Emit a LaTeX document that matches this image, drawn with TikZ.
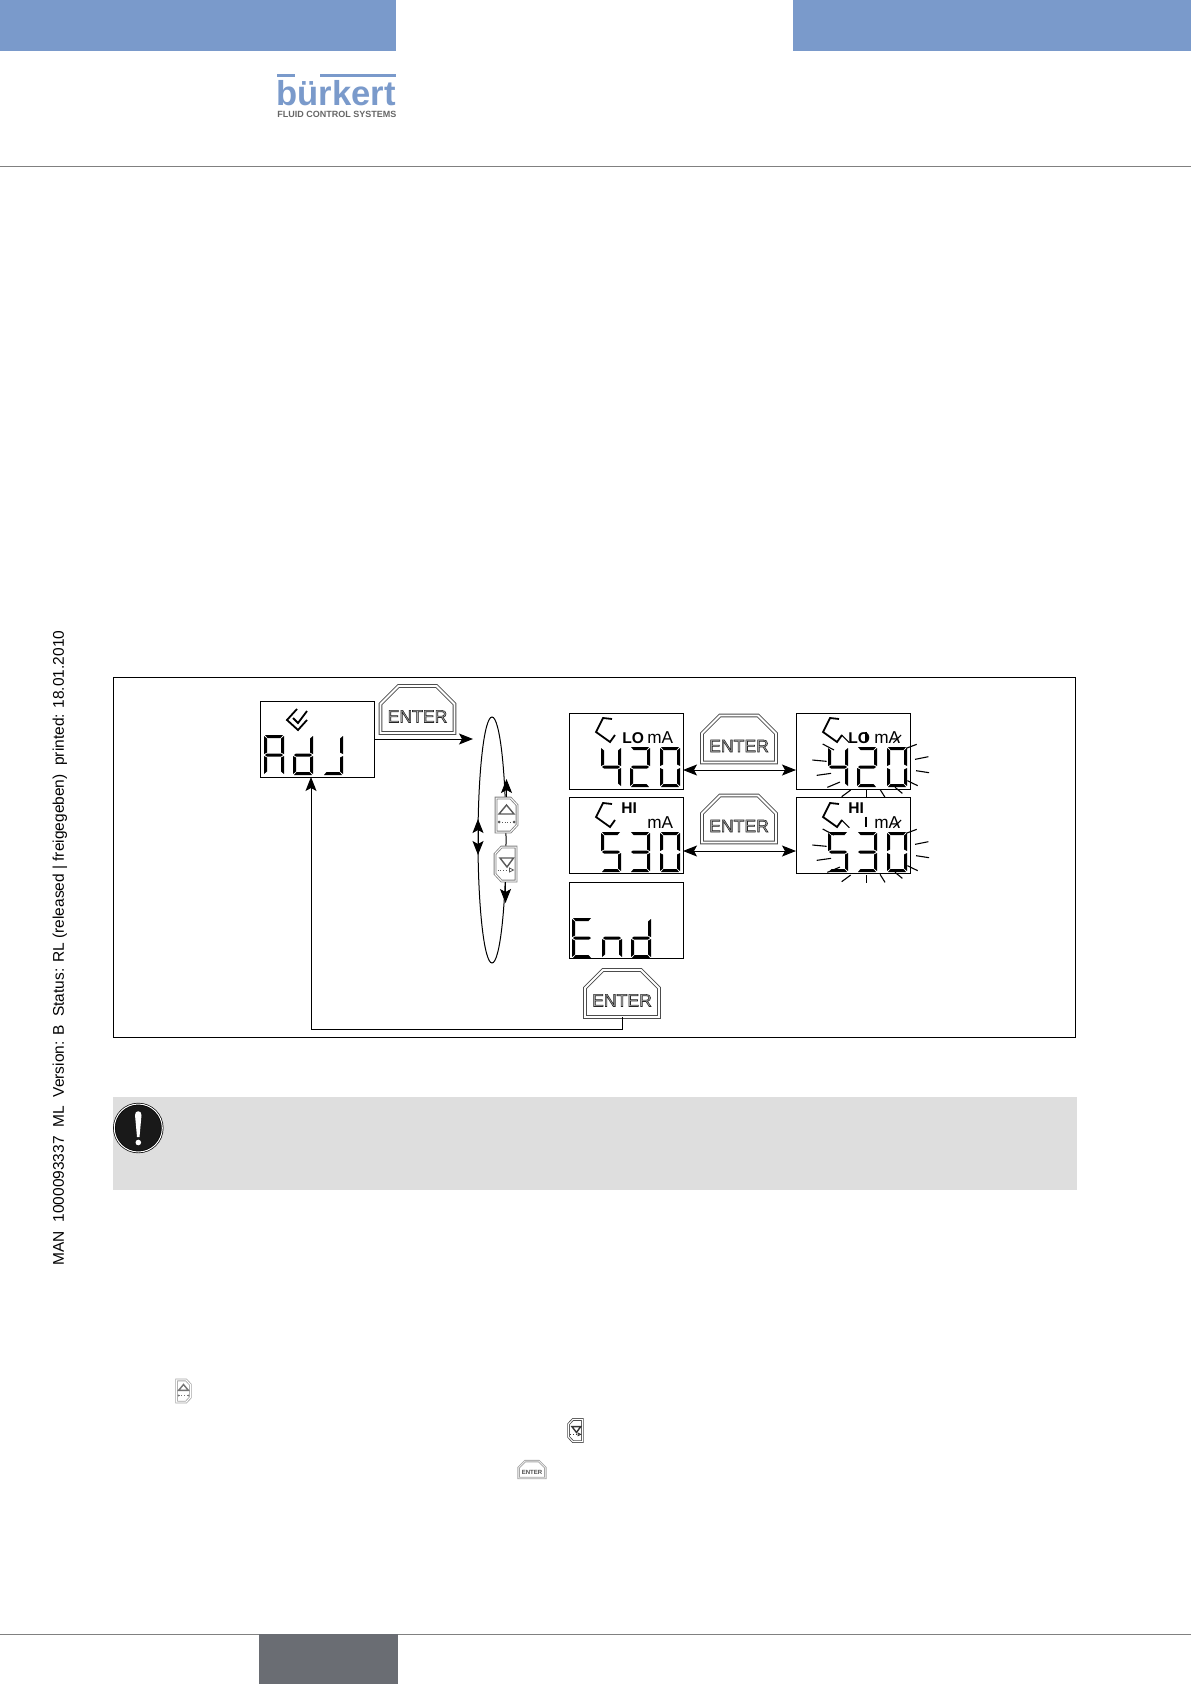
\documentclass[tikz,border=0pt]{standalone}
\usepackage{fontspec}
\setmainfont{Liberation Sans}
\setsansfont{Liberation Sans}
\usepackage{xcolor}
\usetikzlibrary{positioning, arrows.meta, shapes.geometric, shapes.misc}

\definecolor{burkblue}{HTML}{7A9ACB}
\definecolor{footgray}{HTML}{6A6D73}
\definecolor{notegray}{HTML}{DEDEDE}
\definecolor{keygray}{HTML}{808080}
\definecolor{smallgray}{HTML}{A6A6A6}
\definecolor{smalldark}{HTML}{4D4D4D}

% one lcd segment each
\newcommand{\sega}{\fill (1,0) -- (19,0) -- (16.5,3) -- (3.5,3) -- cycle;}
\newcommand{\segb}{\fill (20,1) -- (20,19) -- (17,17.5) -- (17,3.5) -- cycle;}
\newcommand{\segc}{\fill (20,21) -- (20,39) -- (17,36.5) -- (17,22.5) -- cycle;}
\newcommand{\segd}{\fill (1,40) -- (19,40) -- (16.5,37) -- (3.5,37) -- cycle;}
\newcommand{\sege}{\fill (0,21) -- (0,39) -- (3,36.5) -- (3,22.5) -- cycle;}
\newcommand{\segf}{\fill (0,1) -- (0,19) -- (3,17.5) -- (3,3.5) -- cycle;}
\newcommand{\segg}{\fill (1,20) -- (3,18.5) -- (17,18.5) -- (19,20) -- (17,21.5) -- (3,21.5) -- cycle;}
\newcommand{\lcd}[3]{\begin{scope}[shift={(#1,#2)}]
    \foreach \s in {#3} {\csname seg\s\endcsname}
\end{scope}}

% outlined letters on the keys
\newcommand{\outlined}[1]{\raisebox{-6.5pt}[0pt][0pt]{\special{pdf: code q 2 Tr 0.3 w 0.15 G 0.7 g}#1\special{pdf: code Q}}}

% bracket above the digits
\newcommand{\bracketmark}[2]{\draw[mark line] (#1,#2) -- ++(-9,-1) -- ++(-7,14) -- ++(14,10) -- ++(5,-7);}

% blinking rays round a display
\newcommand{\rays}[2]{\begin{scope}[shift={(#1,#2)},x=0.1667pt,y=-0.1667pt]
    \foreach \xa/\ya/\xb/\yb in {218/132/252/150, 187/180/230/184, 200/226/243/220, 232/262/270/246,
        275/290/302/270, 350/270/350/295, 390/268/405/292, 435/262/457/280, 472/242/503/257,
        498/212/537/218, 495/178/535/170, 468/145/500/133, 275/105/298/128, 348/95/348/125, 430/128/453/105}
        {\draw[ray] (\xa,\ya) -- (\xb,\yb);}
\end{scope}}

% arrow keys
\newcommand{\keyup}[5]{\begin{scope}[shift={(#2,#3)},scale=#4,transform shape]
    \node[keybtn] (#1) at (0,0) {};
    \draw[keyline, draw=#5] (-10.5,-17) -- (4,-17) -- (10.5,-10) -- (10.5,10) -- (4,17) -- (-10.5,17) -- cycle;
    \draw[draw=#5!70!black, line width=0.7pt] (0,-10) -- (-7.5,-1) -- (7.5,-1) -- cycle;
    \draw[draw=#5!70!black, densely dotted, line width=0.4pt] (-7.5,7) -- (7.5,7);
    \fill[#5!70!black] (-7.5,7) circle (1.5) (7.5,7) circle (1.5);
\end{scope}}
\newcommand{\keydown}[5]{\begin{scope}[shift={(#2,#3)},scale=#4,transform shape]
    \node[keybtn] (#1) at (0,0) {};
    \draw[keyline, draw=#5] (10.5,-17) -- (-4,-17) -- (-10.5,-10) -- (-10.5,10) -- (-4,17) -- (10.5,17) -- cycle;
    \draw[draw=#5!70!black, line width=0.7pt] (1.5,3) -- (-5.5,-6) -- (8,-6) -- cycle;
    \draw[draw=#5!70!black, densely dotted, line width=0.4pt] (-8,6) -- (4,6);
    \draw[draw=#5!70!black, line width=0.4pt] (8,6) -- (4,4) -- (4,8) -- cycle;
\end{scope}}

\begin{document}
\begin{tikzpicture}[
    x=0.5pt, y=-0.5pt,
    every node/.style={font=\sffamily},
    display/.style={rectangle, draw, line width=0.5pt, minimum width=57pt, minimum height=38pt, inner sep=0pt, outer sep=0pt},
    enterbtn/.style={chamfered rectangle, chamfered rectangle corners={north west,north east},
        chamfered rectangle xsep=9pt, chamfered rectangle ysep=9pt,
        draw=black!70, line width=0.45pt, double=white, double distance=0.9pt,
        minimum width=37pt, minimum height=23.5pt, inner sep=0pt, outer sep=0pt, font=\sffamily\fontsize{8.8}{10}\selectfont},
    keybtn/.style={rectangle, minimum width=11.5pt, minimum height=18pt, inner sep=0pt, outer sep=0pt},
    keyline/.style={line width=0.4pt, double=white, double distance=0.5pt, fill=white},
    mark line/.style={line width=0.9pt, line join=miter},
    ray/.style={line width=0.55pt},
    lcdlabel/.style={inner sep=0pt, anchor=base west},
    arr/.style={-{Stealth[length=7pt,width=5.5pt,inset=1.5pt]}, line width=0.5pt},
    dblarr/.style={{Stealth[length=7pt,width=5.5pt,inset=1.5pt]}-{Stealth[length=7pt,width=5.5pt,inset=1.5pt]}, line width=0.5pt},
]
    \useasboundingbox (0,0) rectangle (1191,1684);

    % page head and foot
    \fill[burkblue] (0,0) rectangle (396,51);
    \fill[burkblue] (793,0) rectangle (1191,51);
    \draw[gray, line width=0.5pt] (0,167) -- (1191,167);
    \draw[gray, line width=0.5pt] (0,1634) -- (1191,1634);
    \fill[footgray] (259,1634) rectangle (398,1684);

    % logo
    \fill[burkblue] (277,74) rectangle (295,77.5);
    \fill[burkblue] (320,74) rectangle (396,77.5);
    \node[lcdlabel, text=burkblue, font=\sffamily\bfseries\fontsize{17.3}{20}\selectfont] (logo) at (276,106) {bürkert};
    \node[lcdlabel, text=gray!80!black, font=\sffamily\bfseries\fontsize{4.5}{5}\selectfont] (logotag) at (277,117.5) {FLUID CONTROL SYSTEMS};

    % margin text
    \node[rotate=90, inner sep=0pt, font=\sffamily\fontsize{7.75}{9}\selectfont] (margin) at (60,948)
        {MAN\ \ 1000093337\ \ ML\ \ Version: B\ \ Status: RL (released | freigegeben)\ \ printed: 18.01.2010};

    % frame
    \draw[line width=0.5pt] (113.5,677) rectangle (1075,1037);

    % displays
    \node[display] (dadj) at (317.5,739) {};
    \node[display] (d420) at (626,751) {};
    \node[display, below=4.25pt of d420] (d530) {};
    \node[display, below=4.5pt of d530] (dend) {};
    \node[display, right=56.5pt of d420] (f420) {};
    \node[display, right=56.5pt of d530] (f530) {};

    % Adj
    \lcd{264}{735}{a,b,c,e,f,g}
    \lcd{293}{735}{b,c,d,e,g}
    \lcd{323}{735}{b,c,d}
    \draw[mark line] (297,709) -- (287,720) -- (298,730) -- (307,720);
    \draw[mark line] (293,718) -- (298,723) -- (307,711);

    % left column
    \bracketmark{612}{719}
    \bracketmark{612}{804}
    \node[lcdlabel, font=\sffamily\bfseries\fontsize{7.8}{9}\selectfont] (lolabel) at (622,743) {LO};
    \node[lcdlabel, font=\sffamily\fontsize{8.6}{9}\selectfont] (lounit) at (647,743) {mA};
    \node[lcdlabel, font=\sffamily\bfseries\fontsize{7.8}{9}\selectfont] (hilabel) at (621,813) {HI};
    \node[lcdlabel, font=\sffamily\fontsize{8.6}{9}\selectfont] (hiunit) at (647,828) {mA};
    \lcd{601}{747}{b,c,f,g}
    \lcd{630}{747}{a,b,d,e,g}
    \lcd{660}{747}{a,b,c,d,e,f}
    \lcd{601}{832}{a,c,d,f,g}
    \lcd{630}{832}{a,b,c,d,g}
    \lcd{660}{832}{a,b,c,d,e,f}
    \lcd{572}{918}{a,d,e,f,g}
    \lcd{602}{918}{c,e,g}
    \lcd{631}{918}{b,c,d,e,g}

    % right column
    \bracketmark{839}{719}
    \bracketmark{839}{804}
    \node[lcdlabel, font=\sffamily\bfseries\fontsize{7.8}{9}\selectfont] (lolabelb) at (848,743) {LO};
    \node[lcdlabel, font=\sffamily\fontsize{8.6}{9}\selectfont] (lounitb) at (874,743) {mA};
    \node[lcdlabel, font=\sffamily\bfseries\fontsize{7.8}{9}\selectfont] (hilabelb) at (848,813) {HI};
    \node[lcdlabel, font=\sffamily\fontsize{8.6}{9}\selectfont] (hiunitb) at (874,828) {mA};
    \lcd{828}{747}{b,c,f,g}
    \lcd{857}{747}{a,b,d,e,g}
    \lcd{887}{747}{a,b,c,d,e,f}
    \lcd{828}{832}{a,c,d,f,g}
    \lcd{857}{832}{a,b,c,d,g}
    \lcd{887}{832}{a,b,c,d,e,f}
    \rays{750}{700}
    \rays{750}{785}

    % enter keys
    \node[enterbtn] (e1) at (417.5,709.5) {\outlined{ENTER}};
    \node[enterbtn] (e2) at (739,739) {\outlined{ENTER}};
    \node[enterbtn] (e3) at (739,819) {\outlined{ENTER}};
    \node[enterbtn] (e4) at (622,993.5) {\outlined{ENTER}};

    % loop with arrow keys
    \node[ellipse, draw, line width=0.5pt, minimum width=14pt, minimum height=123pt, inner sep=0pt] (loop) at (492,840) {};
    \keyup{kup}{506.5}{815}{1}{keygray}
    \keydown{kdown}{505.5}{864}{1}{keygray}

    \coordinate (tipadj) at (473,739);
    \coordinate (tipup) at (506.5,779);
    \coordinate (tipdown) at (505.5,903);
    \coordinate (tipa) at (478,819);
    \coordinate (tipb) at (478,855);
    \coordinate (corner) at (311,1029);

    \draw[arr] (dadj.east) -- (tipadj);
    \draw[arr] (kup.north) -- (tipup);
    \draw[arr] (kdown.south) -- (tipdown);
    \draw[dblarr] (tipa) -- (tipb);
    \draw[dblarr] ([yshift=-9.5pt]d420.east) -- ([yshift=-9.5pt]f420.west);
    \draw[dblarr] ([yshift=-7.75pt]d530.east) -- ([yshift=-7.75pt]f530.west);
    \draw[arr] (e4.south) |- (corner) -- ([xshift=-3.25pt]dadj.south);

    % note
    \fill[notegray] (113,1097) rectangle (1077,1190);
    \node[circle, draw=black, fill=black!90, line width=0.35pt, double=white, double distance=0.5pt, minimum size=24pt, inner sep=0pt] (warn) at (138.3,1128) {};
    \fill[white] (135,1115) .. controls (135,1110) and (141.5,1110) .. (141.5,1115) -- (139.5,1137) -- (137,1137) -- cycle;
    \fill[white] (138.3,1142.5) circle (2.8);

    % small keys in the text
    \keyup{smallup}{183.5}{1391}{0.65}{smallgray}
    \keydown{smalldown}{575.5}{1430.5}{0.65}{smalldark}
    \node[enterbtn, scale=0.36, draw=smallgray, double distance=0.3pt, font=\sffamily\bfseries\fontsize{8.4}{10}\selectfont, text=black!70] (smallenter) at (532,1469.5) {\raisebox{-6.5pt}[0pt][0pt]{ENTER}};
\end{tikzpicture}
\end{document}
